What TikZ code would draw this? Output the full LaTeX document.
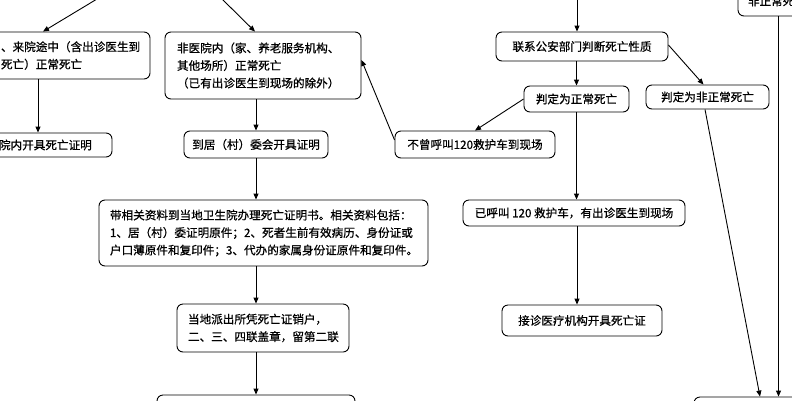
\documentclass[tikz,border=0pt]{standalone}
\usepackage{fontspec}
\newfontfamily\cjk{Noto Sans CJK SC}[UprightFeatures={FakeBold=0.7}]
\usetikzlibrary{arrows.meta}
\begin{document}
\begin{tikzpicture}[x=1pt,y=-1pt,
  box/.style={draw, rounded corners=6pt, line width=0.9pt, inner ysep=0pt,
    font=\cjk\fontsize{11.6}{17.5}\selectfont},
  lbox/.style={box, align=left},
  cbox/.style={box, align=center, inner xsep=0pt},
  arr/.style={-{Triangle[length=6pt,width=5pt]}, line width=0.9pt}]
\useasboundingbox (0,0) rectangle (792,400);
\clip (0,0) rectangle (792,400);
% left column
\node[lbox, text width=137pt, inner xsep=12pt, minimum height=47pt] (A) at (69.5,55.5)
  {、来院途中（含出诊医生到\\死亡）正常死亡};
\node[lbox, text width=94pt, inner xsep=19pt, minimum height=24pt] (B) at (46,145)
  {院内开具死亡证明};
% middle column
\node[lbox, text width=172pt, inner xsep=12pt, minimum height=67pt] (C) at (263,65.5)
  {非医院内（家、养老服务机构、\\其他场所）正常死亡\\（已有出诊医生到现场的除外）};
\node[cbox, minimum width=144pt, minimum height=27pt] (D) at (256,144.5)
  {到居（村）委会开具证明};
\node[lbox, text width=307pt, inner xsep=11pt, minimum height=66pt] (E) at (263.5,233)
  {带相关资料到当地卫生院办理死亡证明书。相关资料包括：\\1、居（村）委证明原件；2、死者生前有效病历、身份证或\\户口薄原件和复印件；3、代办的家属身份证原件和复印件。};
\node[lbox, text width=150pt, inner xsep=11pt, minimum height=48pt] (F) at (263,328)
  {当地派出所凭死亡证销户，\\二、三、四联盖章，留第二联};
\node[cbox, minimum width=198pt, minimum height=40pt] (G) at (256,415) {};
% right column
\node[cbox, minimum width=172pt, minimum height=29pt] (I) at (582,46.5)
  {联系公安部门判断死亡性质};
\node[cbox, minimum width=105pt, minimum height=26pt] (J) at (576.5,99)
  {判定为正常死亡};
\node[cbox, minimum width=123pt, minimum height=24pt] (K) at (707.5,97)
  {判定为非正常死亡};
\node[cbox, minimum width=160pt, minimum height=27pt] (L) at (475,144.5)
  {不曾呼叫120救护车到现场};
\node[cbox, minimum width=222pt, minimum height=26pt] (M) at (574,213)
  {已呼叫 120 救护车，有出诊医生到现场};
\node[cbox, minimum width=160pt, minimum height=31pt] (N) at (582,320.5)
  {接诊医疗机构开具死亡证};
\node[cbox, minimum width=150pt, minimum height=40pt] (H) at (769,417) {};
\node[lbox, text width=80pt, inner xsep=10pt, minimum height=30pt] (O) at (788,1)
  {非正常死亡};
% free ends
\coordinate (in1) at (97,-1);
\coordinate (in2) at (222,-1);
\coordinate (in3) at (577,-1);
\coordinate (colA) at (38,0);
\coordinate (colM) at (577,0);
\coordinate (colO) at (778.5,0);
% connectors
\draw[arr] (in1) -- ([xshift=-26.5pt]A.north);
\draw[arr] (in2) -- ([xshift=-8pt]C.north);
\draw[arr] (colA |- A.south) -- (colA |- B.north);
\draw[arr] (D.north |- C.south) -- (D.north);
\draw[arr] (D.south) -- (D.south |- E.north);
\draw[arr] (D.south |- E.south) -- (D.south |- F.north);
\draw[arr] (D.south |- F.south) -- (D.south |- G.north);
\draw[arr] (in3) -- (in3 |- I.north);
\draw[arr] (J.north |- I.south) -- (J.north);
\draw[arr] ([yshift=1.5pt]I.east) -- ([xshift=-4pt]K.north);
\draw[arr] (J.west) -- (L.north);
\draw[arr] ([yshift=4.5pt]L.west) -- ([yshift=5.5pt]C.east);
\draw[arr] (J.south) -- (J.south |- M.north);
\draw[arr] (colM |- M.south) -- (colM |- N.north);
\draw[arr] ([xshift=-2.5pt]K.south) -- ([xshift=-9pt]H.north);
\draw[arr] (colO |- O.south) -- (colO |- H.north);
\end{tikzpicture}
\end{document}
